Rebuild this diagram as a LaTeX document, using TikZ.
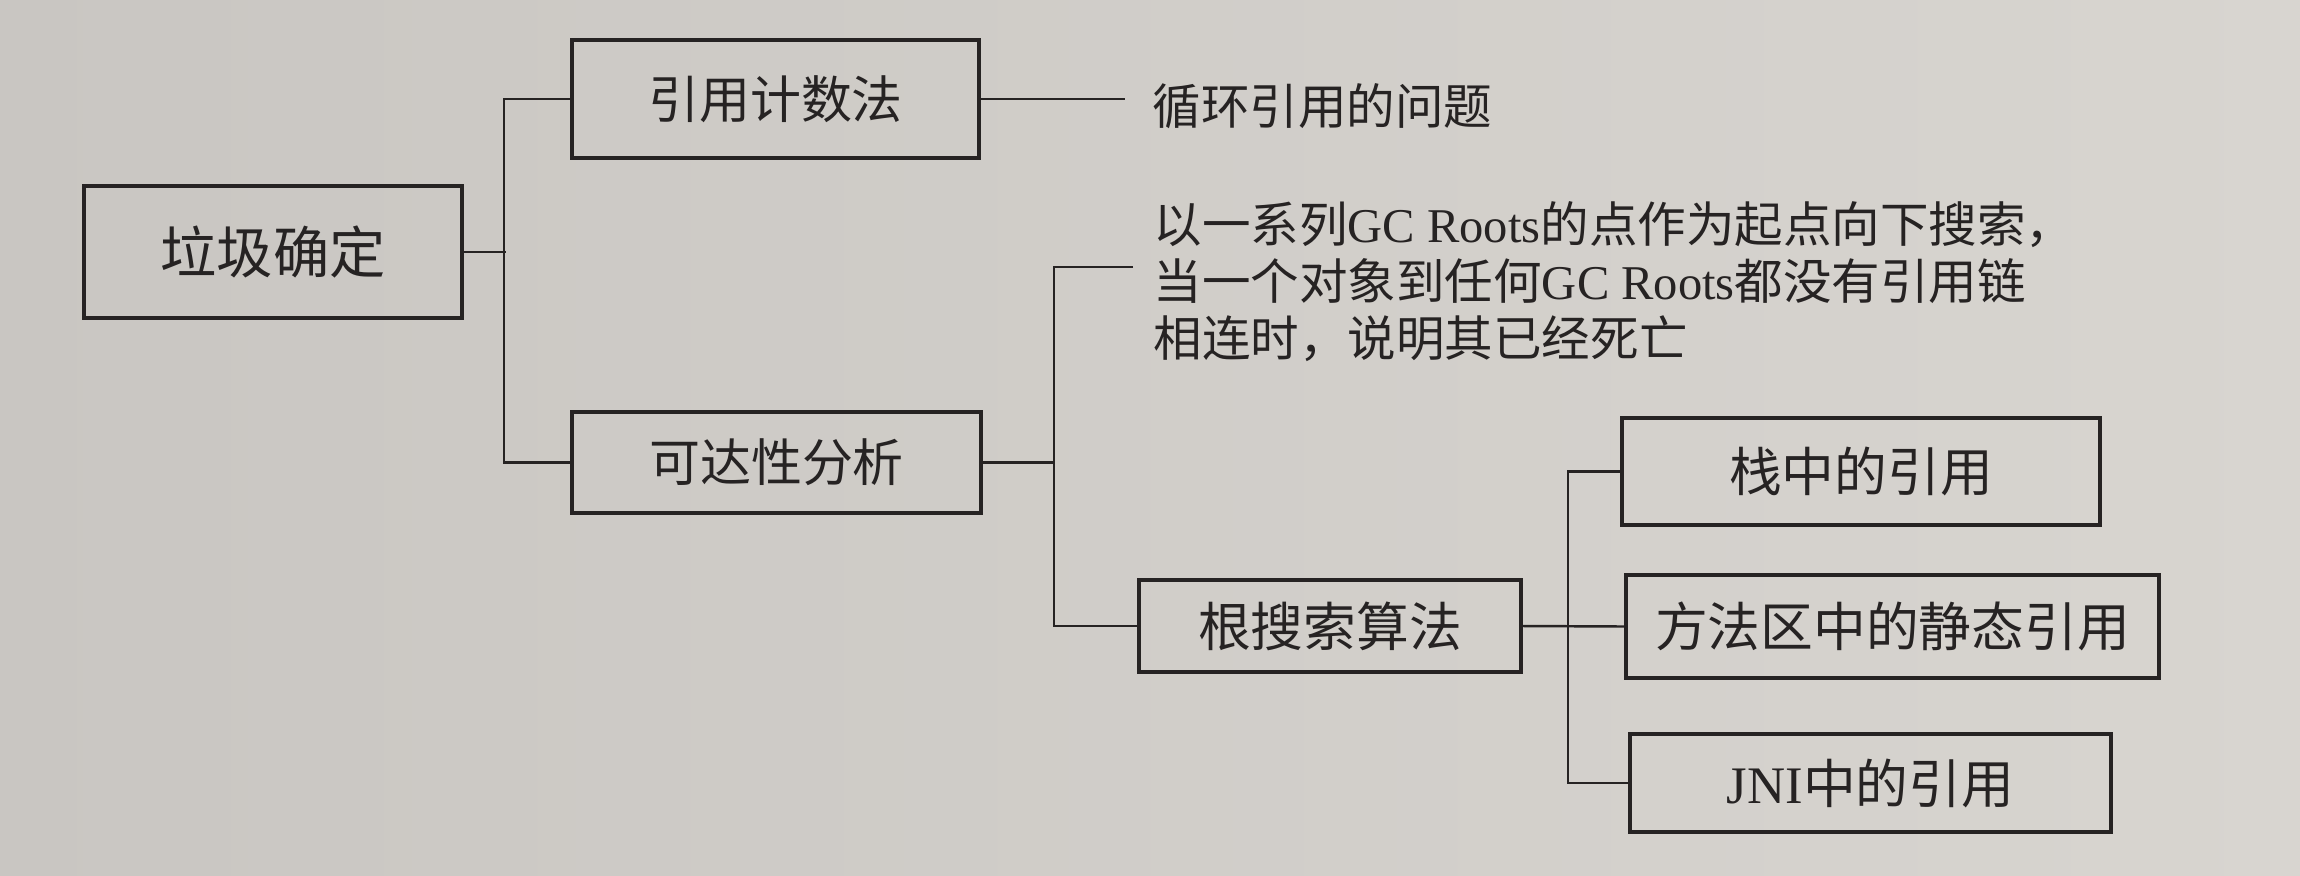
\documentclass[tikz,border=0pt]{standalone}
\usepackage{fontspec}
\setmainfont{Liberation Serif}
\newfontfamily\cjk{Noto Sans CJK SC}
\definecolor{ink}{RGB}{38,35,35}
\definecolor{bgL}{RGB}{201,198,194}
\definecolor{bgR}{RGB}{216,213,208}
\begin{document}
\begin{tikzpicture}[x=0.01cm,y=-0.01cm,
  box/.style={draw=ink, line width=1.2pt, rectangle, inner sep=0pt, text=ink,
    font=\cjk\fontsize{14.5pt}{17pt}\selectfont},
  bigbox/.style={box, font=\cjk\fontsize{15pt}{18pt}\selectfont},
  link/.style={draw=ink, line width=0.7pt},
  plain/.style={text=ink, inner ysep=0pt}]
\useasboundingbox (0,0) rectangle (2300,875);
\fill[left color=bgL, right color=bgR] (0,0) rectangle (2300,875);

% boxes
\node[box, minimum width=3.78cm, minimum height=1.32cm,
      font=\cjk\fontsize{16pt}{19pt}\selectfont] (garbage) at (273,252) {垃圾确定};
\node[box, minimum width=4.07cm, minimum height=1.18cm] (refcount) at (775.5,99) {引用计数法};
\node[box, minimum width=4.09cm, minimum height=1.01cm] (reach) at (776.5,462.5) {可达性分析};
\node[bigbox, minimum width=3.82cm, minimum height=0.92cm] (rootsearch) at (1330,626) {根搜索算法};
\node[bigbox, minimum width=4.78cm, minimum height=1.07cm] (stack) at (1861,471.5) {栈中的引用};
\node[bigbox, minimum width=5.33cm, minimum height=1.03cm] (method) at (1892.5,626.5) {方法区中的静态引用};
\node[bigbox, minimum width=4.81cm, minimum height=0.98cm] (jni) at (1870.5,783) {{\rmfamily JNI}中的引用};

% texts
\node[plain, anchor=west, inner xsep=0.27cm,
      font=\cjk\fontsize{13.8pt}{16pt}\selectfont] (cyc) at (1125,106) {循环引用的问题};
\node[plain, anchor=west, inner xsep=0.2cm, align=left,
      font=\fontsize{13.8pt}{16.2pt}\selectfont] (para) at (1133,282)
  {{\cjk 以一系列}GC Roots{\cjk 的点作为起点向下搜索，}\\
   {\cjk 当一个对象到任何}GC Roots{\cjk 都没有引用链}\\
   {\cjk 相连时，说明其已经死亡}};

% junctions
\coordinate (j1) at (506,252);
\coordinate (j2) at (1054,462.5);
\coordinate (pt) at (1133,267);

% connectors
\draw[link] (refcount.west) -- ++(-66,0) |- (reach.west);
\draw[link] (garbage.east) -- (j1);
\draw[link] (refcount.east) -- (refcount.east -| cyc.west);
\draw[link] (pt) -- ++(-79,0) |- (rootsearch.west);
\draw[link] (reach.east) -- (j2);
\draw[link] (stack.west) -- ++(-52,0) |- (jni.west);
\draw[link] (rootsearch.east) -- (method.west);
\end{tikzpicture}
\end{document}
